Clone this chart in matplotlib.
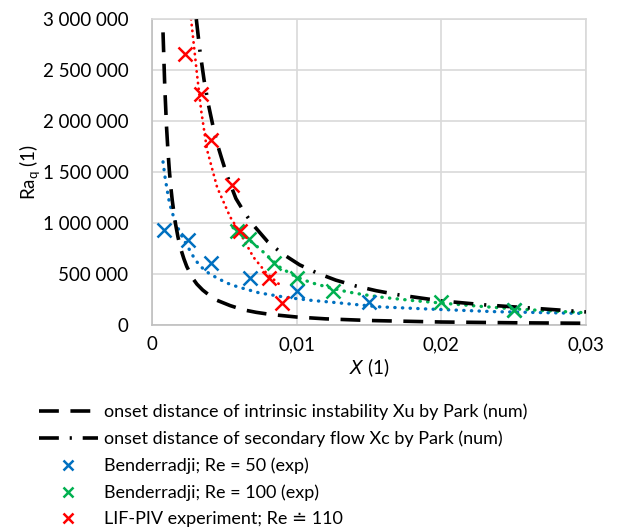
import matplotlib.pyplot as plt
from matplotlib.ticker import FuncFormatter

plt.rcParams['font.family'] = ['Lato', 'DejaVu Sans']

# measured points
x_re50 = [0.0008, 0.0025, 0.0041, 0.0068, 0.0100, 0.0150, 0.0250]
ra_re50 = [930000, 833000, 608000, 461000, 330000, 230000, 150000]

x_re100 = [0.0059, 0.0067, 0.0084, 0.0100, 0.0125, 0.0200, 0.0250]
ra_re100 = [921000, 843000, 608000, 461000, 333000, 225000, 147000]

x_lif = [0.00228, 0.0034, 0.0041, 0.0055, 0.0061, 0.0081, 0.0090]
ra_lif = [2657000, 2265000, 1814000, 1373000, 921000, 461000, 216000]

# Park curves (numerical)
x_xu = [0.00076, 0.00088, 0.001, 0.0011, 0.0012, 0.0013, 0.0014, 0.0016, 0.0018,
        0.002, 0.0022, 0.0024, 0.0028, 0.0031, 0.0035, 0.0043, 0.0054, 0.0063,
        0.0072, 0.0082, 0.009, 0.01, 0.012, 0.015, 0.02, 0.025, 0.03]
ra_xu = [2870000, 2340000, 1950000, 1710000, 1510000, 1350000, 1220000, 1010000, 858000,
         740000, 650000, 574000, 460000, 401000, 343000, 253000, 190000, 149000,
         124000, 103000, 92000, 78000, 60000, 44000, 29000, 21600, 16700]

x_xc = [0.00306, 0.0033, 0.0036, 0.0039, 0.0042, 0.0045, 0.0048, 0.0052, 0.0058,
        0.0064, 0.0070, 0.0080, 0.0090, 0.0102, 0.0114, 0.0127, 0.0141, 0.0155,
        0.0171, 0.0200, 0.0231, 0.0262, 0.0300]
ra_xc = [3000000, 2700000, 2400000, 2160000, 1960000, 1780000, 1640000, 1460000, 1240000,
         1100000, 980000, 816000, 700000, 590000, 510000, 440000, 382000, 336000,
         294000, 236000, 196000, 166000, 128000]

# trendlines
x_tr50 = [0.00076, 0.0009, 0.00105, 0.0012, 0.0014, 0.0017, 0.0021, 0.0025, 0.0029,
          0.0033, 0.0039, 0.0045, 0.0052, 0.0059, 0.0074, 0.0093, 0.0111, 0.0123,
          0.0157, 0.019, 0.0238, 0.03]
ra_tr50 = [1600000, 1450000, 1320000, 1200000, 1100000, 980000, 860000, 760000, 660000,
           580000, 510000, 460000, 410000, 375000, 315000, 270000, 240000, 225000,
           178000, 157000, 130000, 113000]

x_tr100 = [0.0056, 0.0062, 0.0068, 0.0075, 0.0082, 0.0088, 0.0095, 0.01, 0.011, 0.0123,
           0.0135, 0.0146, 0.016, 0.018, 0.02, 0.0225, 0.025, 0.0275, 0.03]
ra_tr100 = [955000, 890000, 825000, 740000, 650000, 570000, 510000, 470000, 415000, 365000,
            325000, 298000, 270000, 240000, 215000, 185000, 158000, 138000, 120000]

x_trlif = [0.0027, 0.0031, 0.0034, 0.0038, 0.0045, 0.0054, 0.0061, 0.0070, 0.0079, 0.0090]
ra_trlif = [3000000, 2470000, 2100000, 1720000, 1350000, 1060000, 900000, 667000, 510000, 373000]

blue = '#0070C0'
green = '#00B050'
red = '#FF0000'

fig = plt.figure(figsize=(6.19, 5.31), dpi=100)
ax = fig.add_axes([0.2456, 0.388, 0.7011, 0.576])

ax.plot(x_tr50, ra_tr50, color=blue, lw=2.4, linestyle=(0, (0.1, 2.2)),
        dash_capstyle='round', zorder=2)
ax.plot(x_tr100, ra_tr100, color=green, lw=2.4, linestyle=(0, (0.1, 2.2)),
        dash_capstyle='round', zorder=2)
ax.plot(x_trlif, ra_trlif, color=red, lw=2.0, linestyle=(0, (0.1, 2.0)),
        dash_capstyle='round', zorder=2)

h_xu, = ax.plot(x_xu, ra_xu, color='black', lw=2.6, linestyle=(0, (5.5, 3.2)),
                label='onset distance of intrinsic instability Xu by Park (num)', zorder=3)
h_xc, = ax.plot(x_xc, ra_xc, color='black', lw=2.6, linestyle=(0, (5.5, 3, 0.6, 3)),
                label='onset distance of secondary flow Xc by Park (num)', zorder=3)

h_b, = ax.plot(x_re50, ra_re50, 'x', color=blue, ms=10, mew=1.8,
               label='Benderradji; Re = 50 (exp)', zorder=4)
h_g, = ax.plot(x_re100, ra_re100, 'x', color=green, ms=10, mew=1.8,
               label='Benderradji; Re = 100 (exp)', zorder=4)
h_r, = ax.plot(x_lif, ra_lif, 'x', color=red, ms=10, mew=1.8,
               label='LIF-PIV experiment; Re \u2250 110', zorder=4)

ax.set_xlim(0, 0.03)
ax.set_ylim(0, 3000000)
ax.set_xticks([0, 0.01, 0.02, 0.03])
ax.set_yticks(range(0, 3000001, 500000))
ax.xaxis.set_major_formatter(FuncFormatter(lambda v, p: '0' if v == 0 else f'{v:.2f}'.replace('.', ',')))
ax.yaxis.set_major_formatter(FuncFormatter(lambda v, p: f'{int(v):,}'.replace(',', ' ')))
ax.tick_params(axis='x', length=0, labelsize=13.5, pad=8)
ax.tick_params(axis='y', length=0, labelsize=13.5, pad=17)
ax.grid(True, color='#D9D9D9', lw=1.2)
ax.set_axisbelow(True)
for s in ax.spines.values():
    s.set_color('#D9D9D9')
    s.set_linewidth(1.2)
ax.spines['left'].set_color('#BFBFBF')
ax.spines['bottom'].set_color('#BFBFBF')

ax.set_ylabel('Ra$_\\mathregular{q}$ (1)', fontsize=13.5, labelpad=0)
ax.set_xlabel('$\\mathit{X}$ (1)', fontsize=13.5, labelpad=2)

fig.legend(handles=[h_xu, h_xc, h_b, h_g, h_r], loc='upper left',
           bbox_to_anchor=(0.036, 0.271), frameon=False, fontsize=13,
           handlelength=3.27, handletextpad=0.33, labelspacing=0.58, markerscale=0.75)

fig.savefig('out.png', dpi=100)
